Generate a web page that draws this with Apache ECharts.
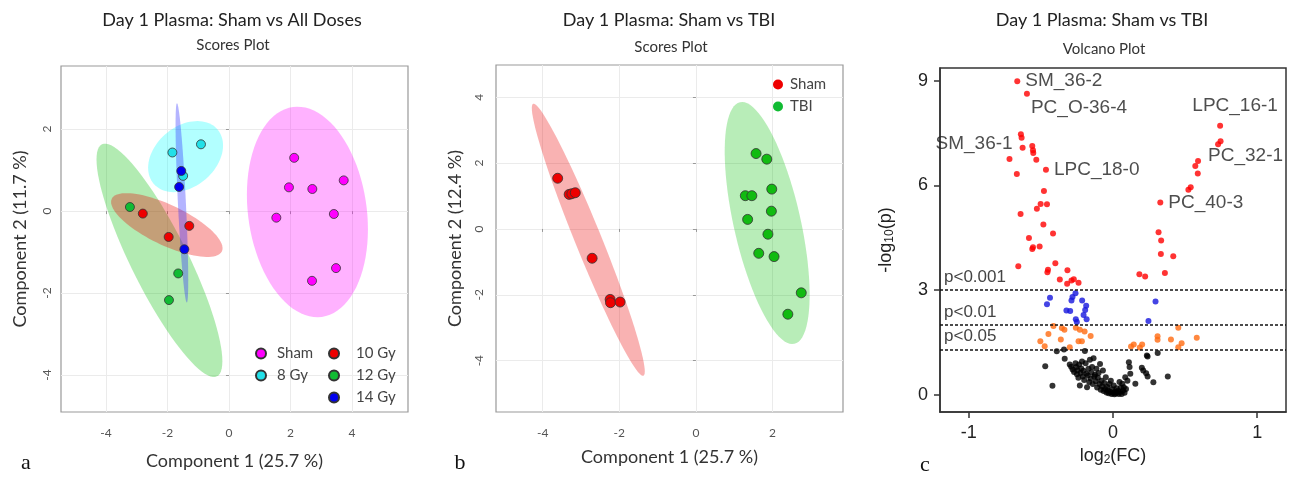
<!DOCTYPE html>
<html>
<head>
<meta charset="utf-8">
<script src="https://cdn.jsdelivr.net/npm/echarts@6/dist/echarts.min.js"></script>
<style>
html, body { margin: 0; padding: 0; background: #fff; }
#chart { width: 1298px; height: 481px; }
</style>
</head>
<body>
<div id="chart"></div>
<script>
// ---- panel a: scores plot, sham vs all doses ----
var shamA = [[2.12, 1.30], [1.95, 0.58], [2.71, 0.54], [3.73, 0.75], [1.54, -0.16], [3.41, -0.07], [2.70, -1.70], [3.48, -1.39]];
var gy8 = [[-1.84, 1.43], [-0.91, 1.63], [-1.49, 0.86]];
var gy10 = [[-2.80, -0.06], [-1.29, -0.36], [-1.96, -0.63]];
var gy12 = [[-3.22, 0.10], [-1.65, -1.52], [-1.95, -2.17]];
var gy14 = [[-1.55, 0.98], [-1.62, 0.59], [-1.45, -0.93]];
// confidence ellipses: centre x, centre y, tip of long half-axis x, y, short/long ratio
var ellShamA = [2.55, -0.02, 2.08, 2.54, 0.56];
var ell8 = [-1.41, 1.33, -0.37, 1.99, 0.72];
var ell10 = [-2.02, -0.34, -0.23, -0.98, 0.33];
var ell12 = [-2.26, -1.20, -4.13, 1.63, 0.22];
var ell14 = [-1.53, 0.20, -1.69, 2.63, 0.04];
var ticksA_x = [-4, -2, 0, 2, 4];
var ticksA_y = [-4, -2, 0, 2];

// ---- panel b: scores plot, sham vs TBI ----
var shamB = [[-3.61, 1.54], [-3.31, 1.05], [-3.24, 1.07], [-3.15, 1.10], [-2.71, -0.89], [-2.24, -2.14], [-2.23, -2.24], [-1.98, -2.22]];
var tbiB = [[1.57, 2.29], [1.85, 2.12], [1.29, 1.01], [1.46, 1.01], [1.98, 1.21], [1.97, 0.54], [1.35, 0.29], [1.88, -0.16], [1.64, -0.74], [2.04, -0.84], [2.75, -1.94], [2.40, -2.59]];
var ellShamB = [-2.81, -0.33, -4.25, 3.80, 0.09];
var ellTbiB = [1.86, 0.18, 1.15, 3.85, 0.27];
var ticksB_x = [-4, -2, 0, 2];
var ticksB_y = [-4, -2, 0, 2, 4];

// ---- panel c: volcano plot ----
var labeledHits = [
    ['SM_36-2', -0.664, 8.99],
    ['PC_O-36-4', -0.597, 8.63],
    ['SM_36-1', -0.627, 7.08],
    ['LPC_18-0', -0.465, 6.45],
    ['LPC_16-1', 0.743, 7.71],
    ['PC_32-1', 0.590, 6.70],
    ['PC_40-3', 0.328, 5.51]
];
var redHits = [[-0.639, 7.47], [-0.634, 7.37], [-0.560, 7.13], [-0.555, 7.01], [-0.553, 6.93], [-0.532, 6.74], [-0.718, 6.76], [-0.667, 6.33],
    [-0.479, 5.84], [-0.502, 5.47], [-0.458, 5.46], [-0.528, 5.33], [-0.641, 5.18], [-0.483, 4.88], [-0.416, 4.62], [-0.583, 4.49],
    [-0.555, 4.23], [-0.509, 4.25], [-0.560, 4.18], [-0.657, 3.68], [-0.40, 3.77], [-0.451, 3.58], [-0.455, 3.51], [-0.316, 3.57],
    [-0.369, 3.30], [-0.288, 3.27], [-0.272, 3.31], [-0.318, 3.18], [-0.239, 3.21],
    [0.746, 7.27], [0.729, 7.18], [0.571, 6.56], [0.588, 6.34], [0.539, 5.95], [0.523, 5.88], [0.316, 4.66], [0.334, 4.42],
    [0.332, 4.03], [0.418, 3.97], [0.360, 3.49], [0.183, 3.45], [0.223, 3.39]];
var blueHits = [[-0.26, 2.91], [-0.281, 2.80], [-0.288, 2.70], [-0.437, 2.78], [-0.458, 2.59], [-0.214, 2.70], [-0.186, 2.55], [-0.323, 2.41],
    [-0.297, 2.40], [-0.193, 2.43], [-0.204, 2.28], [-0.183, 2.16], [-0.258, 2.16], [-0.251, 2.08], [0.295, 2.67], [0.246, 2.11]];
var orangeHits = [[-0.413, 1.97], [-0.355, 1.91], [-0.337, 1.86], [-0.448, 1.74], [-0.362, 1.58], [-0.504, 1.53], [-0.474, 1.39], [-0.30, 1.36],
    [-0.258, 1.92], [-0.230, 1.86], [-0.197, 1.81], [-0.155, 1.68], [-0.239, 1.53], [-0.216, 1.53], [0.125, 1.38], [0.144, 1.44],
    [0.202, 1.44], [0.186, 1.35], [0.309, 1.67], [0.309, 1.57], [0.402, 1.58], [0.453, 1.92], [0.476, 1.47], [0.453, 1.36], [0.581, 1.63]];
var blackHits = [[-0.47, 0.81], [-0.42, 0.25], [-0.39, 1.24], [-0.34, 1.29], [-0.335, 1.03], [-0.30, 0.86], [-0.29, 0.80], [-0.28, 0.72],
    [-0.27, 0.65], [-0.26, 0.90], [-0.255, 0.79], [-0.25, 0.58], [-0.245, 0.70], [-0.24, 0.48], [-0.235, 0.86], [-0.23, 0.26],
    [-0.225, 0.62], [-0.22, 0.75], [-0.215, 0.95], [-0.21, 0.52], [-0.205, 0.68], [-0.20, 0.42], [-0.195, 1.25], [-0.19, 0.90],
    [-0.185, 0.60], [-0.18, 0.21], [-0.175, 0.55], [-0.17, 0.74], [-0.165, 0.36], [-0.16, 1.00], [-0.155, 0.46], [-0.15, 0.64],
    [-0.145, 0.79], [-0.14, 0.30], [-0.135, 1.04], [-0.13, 0.52], [-0.125, 0.57], [-0.12, 0.38], [-0.115, 0.74], [-0.11, 0.20],
    [-0.105, 0.48], [-0.10, 0.62], [-0.095, 0.30], [-0.09, 0.88], [-0.085, 0.14], [-0.08, 0.40], [-0.075, 0.24], [-0.07, 0.69],
    [-0.065, 0.10], [-0.06, 0.33], [-0.055, 0.16], [-0.05, 0.50], [-0.045, 0.06], [-0.04, 0.22], [-0.035, 0.12], [-0.03, 0.04],
    [-0.025, 0.30], [-0.02, 0.08], [-0.015, 0.40], [-0.01, 0.02], [-0.005, 0.15], [0.0, 0.05], [0.005, 0.26], [0.01, 0.01],
    [0.015, 0.09], [0.02, 0.03], [0.025, 0.18], [0.03, 0.06], [0.035, 0.11], [0.04, 0.02], [0.045, 0.36], [0.05, 0.08],
    [0.055, 0.20], [0.06, 0.02], [0.065, 0.31], [0.07, 0.12], [0.075, 0.21], [0.08, 0.05], [0.085, 0.50], [0.09, 0.16],
    [0.10, 0.40], [0.11, 0.93], [0.115, 0.79], [0.12, 0.60], [0.155, 0.31], [0.20, 0.77], [0.21, 0.69], [0.23, 0.61],
    [0.235, 1.12], [0.24, 0.52], [0.24, 1.09], [0.28, 0.35], [0.31, 1.19], [0.38, 0.52]];
var thresholds = [[3, 'p<0.001'], [2, 'p<0.01'], [1.3, 'p<0.05']];
var ticksC_x = [-1, 0, 1];
var ticksC_y = [0, 3, 6, 9];

// where each volcano label sits next to its point
var labelPlace = {
    'SM_36-2': { position: 'right', offset: [0, 0] },
    'PC_O-36-4': { position: 'right', offset: [-4, 14] },
    'SM_36-1': { position: 'left', offset: [-2, -4] },
    'LPC_18-0': { position: 'right', offset: [0, 0] },
    'LPC_16-1': { position: 'top', offset: [15, -3] },
    'PC_32-1': { position: 'right', offset: [2, -5] },
    'PC_40-3': { position: 'right', offset: [0, 0] }
};

var CAL = 'Lato, "Open Sans", sans-serif';
var ARIAL = '"Liberation Sans", Arial, sans-serif';

var chart = echarts.init(document.getElementById('chart'), null, { width: 1298, height: 481 });

function ellipse(name, e, color, gi) {
    return {
        type: 'custom', name: name, xAxisIndex: gi, yAxisIndex: gi, z: 1, silent: true,
        data: [e],
        encode: { x: [0, 2], y: [1, 3] },
        renderItem: function (params, api) {
            var c = api.coord([api.value(0), api.value(1)]);
            var t = api.coord([api.value(2), api.value(3)]);
            var r = api.value(4);
            var ux = t[0] - c[0], uy = t[1] - c[1];
            var vx = -uy * r, vy = ux * r;
            var pts = [];
            for (var k = 0; k < 90; k++) {
                var a = k / 90 * Math.PI * 2;
                pts.push([c[0] + ux * Math.cos(a) + vx * Math.sin(a), c[1] + uy * Math.cos(a) + vy * Math.sin(a)]);
            }
            return { type: 'polygon', shape: { points: pts }, style: { fill: color } };
        }
    };
}

function dots(name, data, color, gi, size) {
    return {
        type: 'scatter', name: name, data: data, xAxisIndex: gi, yAxisIndex: gi,
        symbolSize: size, z: 3,
        itemStyle: { color: color, borderColor: '#333', borderWidth: 0.8, opacity: 1 }
    };
}

function pcaX(gi, min, max, ticks, name, gap) {
    return {
        type: 'value', gridIndex: gi, min: min, max: max,
        name: name, nameLocation: 'middle', nameGap: gap,
        nameTextStyle: { fontFamily: CAL, fontSize: 18, color: '#333' },
        axisLine: { show: false },
        axisTick: { show: true, length: 3, customValues: ticks, lineStyle: { color: '#999' } },
        axisLabel: { customValues: ticks, margin: 15, fontFamily: CAL, fontSize: 12, color: '#555' },
        splitLine: { show: true, lineStyle: { color: '#ebebeb' } }
    };
}

function pcaY(gi, min, max, ticks, name, gap, margin) {
    return {
        type: 'value', gridIndex: gi, min: min, max: max,
        name: name, nameLocation: 'middle', nameGap: gap,
        nameTextStyle: { fontFamily: CAL, fontSize: 18, color: '#333' },
        axisLine: { show: false },
        axisTick: { show: true, length: 3, customValues: ticks, lineStyle: { color: '#999' } },
        axisLabel: { customValues: ticks, rotate: 90, margin: margin, fontFamily: CAL, fontSize: 12, color: '#555' },
        splitLine: { show: true, lineStyle: { color: '#ebebeb' } }
    };
}

function txt(x, y, s, font, color) {
    return { type: 'text', x: x, y: y, silent: true, style: { text: s, font: font, fill: color, align: 'center', verticalAlign: 'middle' } };
}

var labeledData = labeledHits.map(function (h) {
    var p = labelPlace[h[0]];
    return { name: h[0], value: [h[1], h[2]], label: { position: p.position, offset: p.offset } };
});

var legendText = { fontFamily: CAL, fontSize: 15, color: '#444' };

var option = {
    backgroundColor: '#fff',
    animation: false,
    graphic: [
        txt(232, 20, 'Day 1 Plasma: Sham vs All Doses', '18px ' + CAL, '#222'),
        txt(233, 45, 'Scores Plot', '15px ' + CAL, '#333'),
        txt(669, 20, 'Day 1 Plasma: Sham vs TBI', '18px ' + CAL, '#222'),
        txt(671, 47, 'Scores Plot', '15px ' + CAL, '#333'),
        txt(1102, 20, 'Day 1 Plasma: Sham vs TBI', '18px ' + CAL, '#222'),
        txt(1104, 49, 'Volcano Plot', '15px ' + CAL, '#333'),
        txt(26, 463, 'a', '22px "Liberation Serif", serif', '#111'),
        txt(460, 463, 'b', '22px "Liberation Serif", serif', '#111'),
        txt(925, 465, 'c', '22px "Liberation Serif", serif', '#111')
    ],
    grid: [
        { left: 61, top: 66, width: 347, height: 346, show: true, borderColor: '#999', borderWidth: 1.2 },
        { left: 496, top: 65, width: 347, height: 347, show: true, borderColor: '#999', borderWidth: 1.2 },
        { left: 940, top: 68, width: 346, height: 344, show: true, borderColor: '#333', borderWidth: 1.5 }
    ],
    xAxis: [
        pcaX(0, -5.46, 5.82, ticksA_x, 'Component 1 (25.7 %)', 40),
        pcaX(1, -5.22, 3.84, ticksB_x, 'Component 1 (25.7 %)', 36),
        {
            type: 'value', gridIndex: 2, min: -1.2, max: 1.2,
            name: 'log{sub|2}(FC)', nameLocation: 'middle', nameGap: 33,
            nameTextStyle: { fontFamily: ARIAL, fontSize: 18, color: '#222', rich: { sub: { fontFamily: ARIAL, fontSize: 12, verticalAlign: 'bottom', padding: [8, 0, 0, 0] } } },
            axisLine: { show: true, onZero: false, lineStyle: { color: '#333', width: 1.5 } },
            axisTick: { show: true, length: 6, customValues: ticksC_x, lineStyle: { color: '#333', width: 1.5 } },
            axisLabel: { customValues: ticksC_x, margin: 12, fontFamily: ARIAL, fontSize: 18, color: '#222' },
            splitLine: { show: false }
        }
    ],
    yAxis: [
        pcaY(0, -4.9, 3.54, ticksA_y, 'Component 2 (11.7 %)', 32, 8),
        pcaY(1, -5.56, 4.98, ticksB_y, 'Component 2 (12.4 %)', 32, 11),
        {
            type: 'value', gridIndex: 2, min: -0.5, max: 9.37,
            name: '-log{sub|10}(p)', nameLocation: 'middle', nameGap: 44,
            nameTextStyle: { fontFamily: ARIAL, fontSize: 18, color: '#222', rich: { sub: { fontFamily: ARIAL, fontSize: 12, verticalAlign: 'bottom', padding: [8, 0, 0, 0] } } },
            axisLine: { show: true, onZero: false, lineStyle: { color: '#333', width: 1.5 } },
            axisTick: { show: true, length: 6, customValues: ticksC_y, lineStyle: { color: '#333', width: 1.5 } },
            axisLabel: { customValues: ticksC_y, margin: 12, fontFamily: ARIAL, fontSize: 18, color: '#222' },
            splitLine: { show: false }
        }
    ],
    legend: [
        {
            data: ['Sham', '8 Gy'], orient: 'vertical', left: 250, top: 341, icon: 'circle',
            itemWidth: 10, itemHeight: 10, itemGap: 7,
            textStyle: Object.assign({ padding: [0, 0, 0, 6] }, legendText)
        },
        {
            data: ['10 Gy', '12 Gy', '14 Gy'], orient: 'vertical', left: 323, top: 341, icon: 'circle',
            itemWidth: 10, itemHeight: 10, itemGap: 7,
            textStyle: Object.assign({ padding: [0, 0, 0, 12] }, legendText)
        },
        {
            data: [
                { name: 'Sham', itemStyle: { color: '#ee0000', borderWidth: 0 } },
                { name: 'TBI', itemStyle: { color: '#11bb33', borderWidth: 0 } }
            ],
            orient: 'vertical', left: 768, top: 72, icon: 'circle',
            itemWidth: 10, itemHeight: 10, itemGap: 7,
            textStyle: Object.assign({ padding: [0, 0, 0, 2] }, legendText)
        }
    ],
    series: [
        ellipse('Sham region', ellShamA, 'rgba(255,0,255,0.3)', 0),
        ellipse('8 Gy region', ell8, 'rgba(0,255,255,0.3)', 0),
        ellipse('12 Gy region', ell12, 'rgba(0,190,0,0.3)', 0),
        ellipse('10 Gy region', ell10, 'rgba(235,0,0,0.32)', 0),
        ellipse('14 Gy region', ell14, 'rgba(40,40,255,0.35)', 0),
        dots('Sham', shamA, '#ff00ff', 0, 9),
        dots('8 Gy', gy8, '#22e0e8', 0, 9),
        dots('10 Gy', gy10, '#ee0000', 0, 9),
        dots('12 Gy', gy12, '#11bb33', 0, 9),
        dots('14 Gy', gy14, '#0000ee', 0, 9),

        ellipse('Sham region b', ellShamB, 'rgba(235,0,0,0.3)', 1),
        ellipse('TBI region', ellTbiB, 'rgba(0,190,0,0.28)', 1),
        dots('Sham', shamB, '#ee0000', 1, 10),
        dots('TBI', tbiB, '#11bb11', 1, 10),

        {
            type: 'scatter', name: 'not significant', data: blackHits, xAxisIndex: 2, yAxisIndex: 2,
            symbolSize: 6, itemStyle: { color: '#000' }, z: 3
        },
        {
            type: 'scatter', name: 'p<0.05', data: orangeHits, xAxisIndex: 2, yAxisIndex: 2,
            symbolSize: 6, itemStyle: { color: '#ff6a10' }, z: 3
        },
        {
            type: 'scatter', name: 'p<0.01', data: blueHits, xAxisIndex: 2, yAxisIndex: 2,
            symbolSize: 6, itemStyle: { color: '#1515dd' }, z: 3
        },
        {
            type: 'scatter', name: 'p<0.001', data: redHits, xAxisIndex: 2, yAxisIndex: 2,
            symbolSize: 6, itemStyle: { color: '#ff0000' }, z: 3,
            markLine: {
                silent: true, symbol: 'none', animation: false,
                lineStyle: { color: '#111', type: [3, 2], width: 1.5 },
                label: { position: 'insideStartTop', formatter: '{b}', fontFamily: ARIAL, fontSize: 17, color: '#444', distance: [4, 4] },
                data: thresholds.map(function (t) { return { yAxis: t[0], name: t[1] }; })
            }
        },
        {
            type: 'scatter', name: 'labelled', data: labeledData, xAxisIndex: 2, yAxisIndex: 2,
            symbolSize: 6, itemStyle: { color: '#ff0000' }, z: 4,
            label: { show: true, formatter: '{b}', fontFamily: ARIAL, fontSize: 19, color: '#222', distance: 5 }
        }
    ]
};

chart.setOption(option);
</script>
</body>
</html>
